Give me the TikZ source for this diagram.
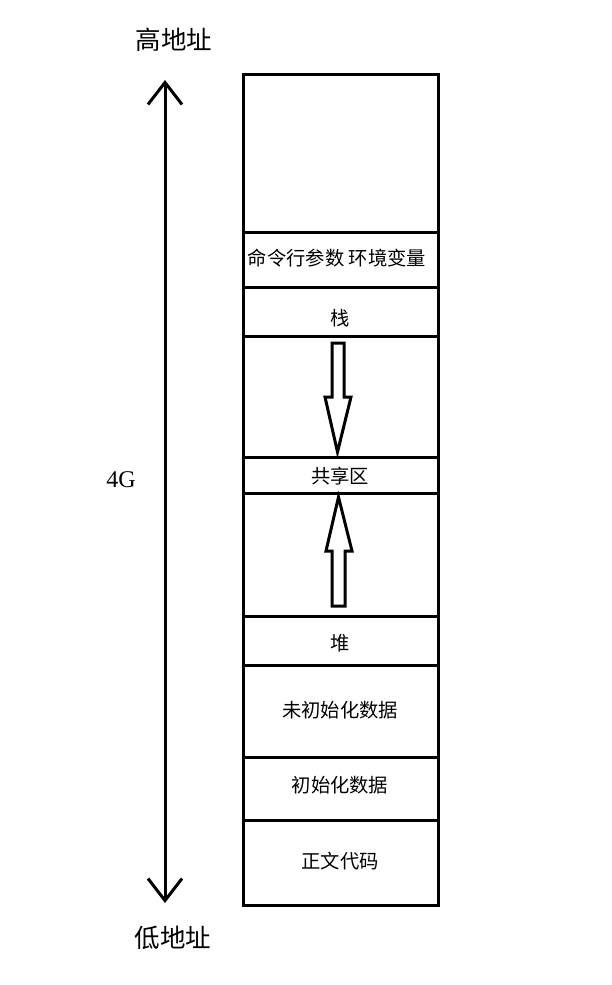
\documentclass[tikz,border=0pt]{standalone}
\usepackage{fontspec}
\setmainfont{Liberation Serif}
\newfontfamily\cjk{Noto Sans CJK SC}
\usetikzlibrary{arrows.meta}
\tikzset{
  seg/.style={draw, line width=3pt, minimum width=195pt, inner sep=0pt, outer sep=0pt},
  lab/.style={font=\cjk\fontsize{19.3}{23}\selectfont, inner sep=0pt},
  side/.style={font=\cjk\fontsize{25.5}{30}\selectfont, inner sep=0pt},
  hollow/.style={draw, line width=3pt, line join=miter, fill=white},
  addr/.style={line width=3pt, {Straight Barb[length=22pt,width=34pt]}-{Straight Barb[length=22pt,width=34pt]}}
}
\begin{document}
\begin{tikzpicture}[x=1pt,y=-1pt]
\useasboundingbox (0,0) rectangle (612,985);
% segments
\node[seg, minimum height=158.5pt] (s1) at (340.5,153.25) {};
\node[seg, minimum height=55pt]    (s2) at (340.5,260) {};
\node[seg, minimum height=48.5pt]  (s3) at (340.5,311.75) {};
\node[seg, minimum height=121pt]   (s4) at (340.5,396.5) {};
\node[seg, minimum height=36pt]    (s5) at (340.5,475) {};
\node[seg, minimum height=123.5pt] (s6) at (340.5,554.75) {};
\node[seg, minimum height=48.5pt]  (s7) at (340.5,640.75) {};
\node[seg, minimum height=92pt]    (s8) at (340.5,711) {};
\node[seg, minimum height=63pt]    (s9) at (340.5,788.5) {};
\node[seg, minimum height=85pt]    (s10) at (340.5,862.5) {};
% labels
\node[lab] (l2) at (337,258) {命令行参数 环境变量};
\node[lab] (l3) at (340,318) {栈};
\node[lab] (l5) at (340,476) {共享区};
\node[lab] (l7) at (340,643) {堆};
\node[lab] (l8) at (340,710) {未初始化数据};
\node[lab] (l9) at (340,785) {初始化数据};
\node[lab] (l10) at (340,861) {正文代码};
% hollow arrows
\draw[hollow] (332,343) -- (344,343) -- (344,397) -- (351,397) -- (337.5,452) -- (325,397) -- (332,397) -- cycle;
\draw[hollow] (338.5,497) -- (352,551) -- (345,551) -- (345,606) -- (332,606) -- (332,551) -- (326,551) -- cycle;
% address axis
\coordinate (hi) at (165,80);
\coordinate (lo) at (165,903);
\draw[addr] (hi) -- (lo);
\node[side] (high) at (174,40) {高地址};
\node[side] (low) at (173,938) {低地址};
\node[font=\fontsize{24}{28}\selectfont, inner sep=0pt] (size) at (121,480) {4G};
\end{tikzpicture}
\end{document}
